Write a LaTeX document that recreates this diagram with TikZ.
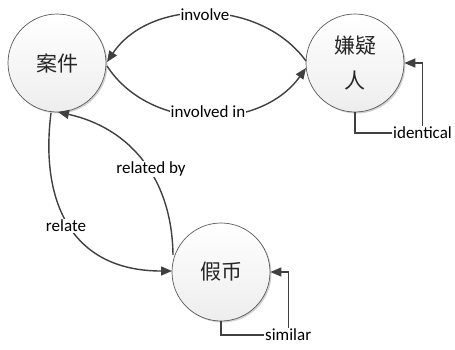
\documentclass[tikz,border=0pt]{standalone}
\usepackage{fontspec}
\newfontfamily\labfont{Carlito}
\newfontfamily\cjkfont{Noto Sans CJK SC}
\usetikzlibrary{arrows.meta,shadows}
\definecolor{edgecol}{HTML}{404040}
\definecolor{rimcol}{HTML}{5A5A5A}
\tikzset{
  entity/.style={circle, draw=rimcol, line width=0.7pt, minimum size=98pt, inner sep=0pt,
    top color=white, bottom color=gray!14,
    drop shadow={shadow xshift=1.5pt, shadow yshift=-1.5pt, opacity=0.18, fill=black},
    font=\cjkfont\fontsize{21}{35}\selectfont, text=black!85, align=center},
  rel/.style={draw=edgecol, line width=1.4pt, -{Triangle[length=11pt,width=9pt]}},
  loopline/.style={draw=edgecol, line width=1.4pt},
  lbl/.style={font=\labfont\fontsize{17}{19}\selectfont, fill=white, inner sep=1pt, text=black}
}
\begin{document}
\begin{tikzpicture}[x=1pt,y=-1pt]
\path[fill=white] (0,0) rectangle (455,349);
\useasboundingbox (0,0) rectangle (455,349);
\node[entity] (case) at (57,63) {案件};
\node[entity] (sus) at (355,63) {嫌疑\\人};
\node[entity] (coin) at (221,272) {假币};
% involve
\coordinate (a1) at (306,61);
\coordinate (b1) at (107,62);
\draw[rel] (a1) .. controls (260,-2) and (150,-2) .. (b1);
\node[lbl] (involve) at (205,15) {involve};
% involved in
\coordinate (a2) at (107,66);
\coordinate (b2) at (306,68);
\draw[rel] (a2) .. controls (150,132) and (260,132) .. (b2);
\node[lbl] (involvedin) at (208,112) {involved in};
% related by
\coordinate (a3) at (173,255);
\coordinate (b3) at (58,112);
\draw[rel] (a3) .. controls (172,178) and (130,128) .. (b3);
\node[lbl] (relatedby) at (151,169) {related by};
% relate
\coordinate (a4) at (51,113);
\coordinate (b4) at (172,271);
\draw[rel] (a4) .. controls (40,200) and (70,271) .. (b4);
\node[lbl] (relate) at (66,226) {relate};
% identical
\node[lbl, anchor=west, fill=none] (ident) at (392,133) {identical};
\draw[loopline] (sus.south) |- (ident.west);
\draw[rel] (ident.north) |- (sus.east);
% similar
\node[lbl, anchor=west, fill=none] (sim) at (264,335) {similar};
\draw[loopline] (coin.south) |- (sim.west);
\draw[rel] (sim.north) |- (coin.east);
\end{tikzpicture}
\end{document}
